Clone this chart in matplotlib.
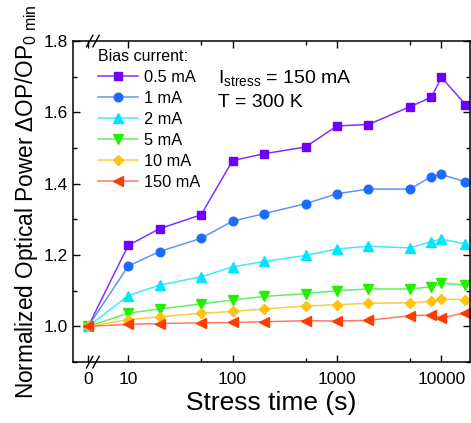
import numpy as np
import matplotlib
matplotlib.use('Agg')
import matplotlib.pyplot as plt
from matplotlib.ticker import FixedLocator, MultipleLocator, FormatStrFormatter

plt.rcParams['font.family'] = ['Liberation Sans', 'DejaVu Sans']
plt.rcParams['mathtext.fontset'] = 'custom'
plt.rcParams['mathtext.rm'] = 'Liberation Sans'
plt.rcParams['mathtext.it'] = 'Liberation Sans:italic'

# ---------------- data ----------------
t = [0, 10, 20, 50, 100, 200, 500, 1000, 2000, 5000, 8000, 10000, 17000]

op_05mA = [1.0, 1.227, 1.274, 1.313, 1.465, 1.484, 1.503, 1.562, 1.566, 1.616, 1.642, 1.698, 1.622]
op_1mA = [1.0, 1.169, 1.210, 1.247, 1.295, 1.316, 1.344, 1.372, 1.385, 1.385, 1.420, 1.426, 1.405]
op_2mA = [1.0, 1.086, 1.116, 1.139, 1.167, 1.182, 1.199, 1.217, 1.225, 1.220, 1.238, 1.245, 1.231]
op_5mA = [1.0, 1.037, 1.049, 1.063, 1.074, 1.084, 1.092, 1.100, 1.105, 1.105, 1.111, 1.121, 1.116]
op_10mA = [1.0, 1.019, 1.027, 1.037, 1.042, 1.049, 1.057, 1.061, 1.065, 1.066, 1.070, 1.077, 1.075]
op_150mA = [1.0, 1.006, 1.008, 1.010, 1.011, 1.013, 1.016, 1.015, 1.017, 1.030, 1.032, 1.023, 1.039]

labels = ['0.5 mA', '1 mA', '2 mA', '5 mA', '10 mA', '150 mA']
series = [op_05mA, op_1mA, op_2mA, op_5mA, op_10mA, op_150mA]
markers = ['s', 'o', '^', 'v', 'D', '<']
msizes = [5.5, 6.2, 6.8, 6.8, 5.2, 6.8]
mcolors = ['#6e00ff', '#1a6cff', '#00e6ff', '#26ee00', '#ffc20e', '#ff3c00']
lcolors = ['#7f33ff', '#5c94ff', '#40eaff', '#5cf25c', '#ffcc40', '#ff7a5c']

# ---------------- broken x scale: linear 0..10, log above ----------------
A = 1 - 40/104.5   # position of t=0 in decades


def fwd(x):
    x = np.asarray(x, dtype=float)
    lin = A + x*(1 - A)/10
    lg = np.log10(np.where(x >= 10, x, 10))
    return np.where(x >= 10, lg, lin)


def inv(u):
    u = np.asarray(u, dtype=float)
    lin = (u - A)*10/(1 - A)
    return np.where(u >= 1, 10**np.where(u >= 1, u, 1), lin)


fig = plt.figure(figsize=(4.71, 4.23), dpi=100)
ax = fig.add_axes([0.155, 0.144, 0.843, 0.759])
ax.set_xscale('function', functions=(fwd, inv))

for y, lab, m, ms, mc, lc in zip(series, labels, markers, msizes, mcolors, lcolors):
    ax.plot(t, y, color=lc, lw=1.1, marker=m, ms=ms, mfc=mc, mec=mc, label=lab)

ax.set_xlim(-3.8, 18800)
ax.set_ylim(0.9, 1.8)

ax.xaxis.set_major_locator(FixedLocator([0, 10, 100, 1000, 10000]))
ax.xaxis.set_minor_locator(FixedLocator([50, 500, 5000]))
ax.set_xticklabels(['0', '10', '100', '1000', '10000'])
ax.yaxis.set_major_locator(MultipleLocator(0.2))
ax.yaxis.set_minor_locator(MultipleLocator(0.1))
ax.yaxis.set_major_formatter(FormatStrFormatter('%.1f'))

ax.tick_params(which='both', direction='in', top=True, right=True, labelsize=12.5)
ax.tick_params(which='major', length=5, width=1)
ax.tick_params(which='minor', length=3, width=1)
ax.tick_params(axis='x', pad=7)
for s in ax.spines.values():
    s.set_linewidth(1.1)

# axis break marks
for yb in (0, 1):
    for dx in (-0.008, 0.008):
        ax.plot([0.05 + dx - 0.008, 0.05 + dx + 0.008], [yb - 0.018, yb + 0.018],
                transform=ax.transAxes, color='k', lw=1, clip_on=False)

ax.set_xlabel('Stress time (s)', fontsize=19, labelpad=3)
ax.set_ylabel(r'Normalized Optical Power $\Delta$OP/OP$_{\mathrm{0\ min}}$', fontsize=16.3, labelpad=3)

leg = ax.legend(loc='upper left', bbox_to_anchor=(0.035, 1.012), frameon=False,
                title='Bias current:', fontsize=11.8, title_fontsize=11.5,
                handlelength=2.4, handletextpad=0.4, labelspacing=0.37,
                borderaxespad=0.3, alignment='left')

ax.text(0.365, 0.869, r'I$_{\mathrm{stress}}$ = 150 mA', transform=ax.transAxes,
        fontsize=14, va='baseline')
ax.text(0.365, 0.795, 'T = 300 K', transform=ax.transAxes, fontsize=14, va='baseline')

plt.savefig('out.png', dpi=100)
